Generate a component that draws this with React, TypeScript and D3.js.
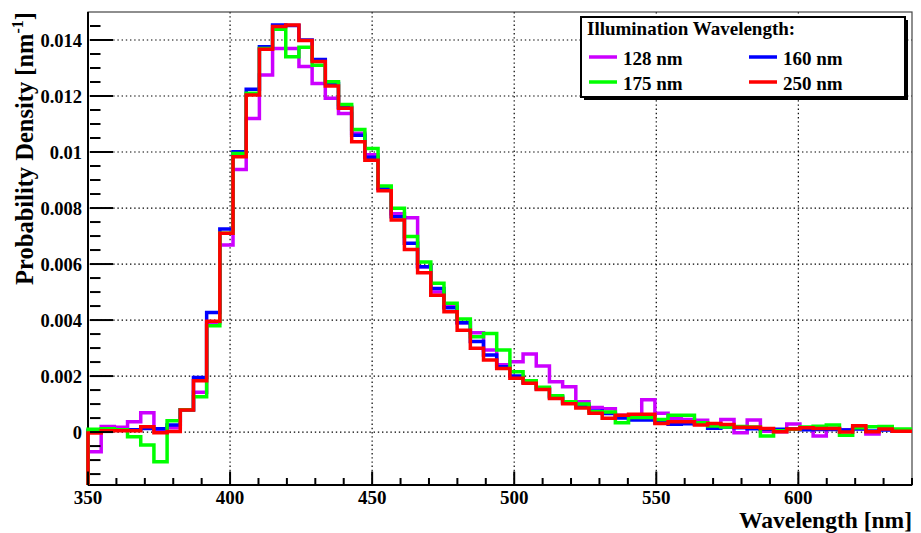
import { useEffect, useRef } from "react";
import * as d3 from "d3";

// histogram binning (nm)
const binStart = 350;
const binWidth = 4.64;

const series128 = [
  -0.0007, 0.0002, 0.00017, 0.00037, 0.00069, 0.00007, 0.00015, 0.00079, 0.00142, 0.0039,
  0.00668, 0.00938, 0.0112, 0.01275, 0.0137, 0.0137, 0.01305, 0.01245, 0.01192, 0.01138,
  0.01067, 0.0099, 0.0087, 0.0078, 0.00765, 0.0059, 0.005, 0.00448, 0.0039, 0.00355,
  0.00293, 0.0024, 0.00251, 0.00279, 0.00236, 0.0018, 0.00162, 0.00108, 0.00088, 0.00083,
  0.0006, 0.0006, 0.00115, 0.00067, 0.00049, 0.00045, 0.00042, 0.0003, 0.00045, -0.00002,
  0.00043, 0.00003, 0.00001, 0.00029, 0.0001, -0.00014, 0.00013, 0.00008, 0.00013, -0.00007,
  0.0001, 0.00006, 0.00005,
];
const series160 = [
  0.00005, 0.00008, 0.00008, 0.00008, 0.00013, 0.00012, 0.00025, 0.0008, 0.00195, 0.00427,
  0.00725, 0.01001, 0.01224, 0.01376, 0.01454, 0.01452, 0.014, 0.0133, 0.01245, 0.0116,
  0.0106, 0.00981, 0.0087, 0.00769, 0.00674, 0.0059, 0.00513, 0.00444, 0.0039, 0.00323,
  0.00275, 0.00233, 0.002, 0.00177, 0.00155, 0.00125, 0.00105, 0.00093, 0.00075, 0.00066,
  0.0005, 0.00043, 0.00043, 0.00033, 0.00028, 0.0003, 0.00028, 0.00014, 0.00018, 0.00015,
  0.00012, 0.0001, 0.0001, 0.00011, 0.00008, 0.00009, 0.00009, 0.00007, 0.00011, 0.00004,
  0.00007, 0.00007, 0.00005,
];
const series175 = [
  0.0001, 0.00012, 0.00008, -0.00017, -0.00046, -0.00106, 0.0004, 0.0008, 0.00126, 0.0038,
  0.0071, 0.00995, 0.0121, 0.0137, 0.01438, 0.0134, 0.01374, 0.0131, 0.01251, 0.0117,
  0.0108, 0.01013, 0.00879, 0.00799, 0.00698, 0.00607, 0.00531, 0.0046, 0.00404, 0.0034,
  0.00352, 0.00293, 0.00215, 0.00183, 0.0016, 0.0013, 0.00108, 0.001, 0.00073, 0.00072,
  0.00033, 0.00052, 0.00052, 0.00045, 0.0006, 0.0006, 0.00033, 0.00022, 0.00018, 0.0002,
  0.00018, -0.00014, 0.00005, 0.0001, 0.00018, 0.00021, 0.00025, -0.00011, 0.00015, 0.00019,
  0.0002, 0.00011, 0.00011,
];
const series250 = [
  -0.00003, 0.00005, 0.00005, 0.00005, 0.00019, -0.00002, 0.00002, 0.00079, 0.00183, 0.00396,
  0.0071, 0.00983, 0.01204, 0.01367, 0.01448, 0.01454, 0.01398, 0.01323, 0.01236, 0.01156,
  0.01037, 0.00971, 0.00862, 0.00757, 0.00652, 0.00569, 0.00489, 0.0043, 0.00364, 0.00299,
  0.00257, 0.00227, 0.00192, 0.00174, 0.00152, 0.0012, 0.00101, 0.00086, 0.00067, 0.00049,
  0.0006, 0.00064, 0.00064, 0.00031, 0.00037, 0.00037, 0.00025, 0.00031, 0.00027, 0.00017,
  0.00017, 0.00013, 0.00001, 0.00011, 0.00015, 0.00013, 0.00013, 0, 0.00023, 0.00001,
  0.00011, 0.00003, 0.00003,
];

const seriesLabels = ["128 nm", "160 nm", "175 nm", "250 nm"];
const seriesColors = ["#cc00ff", "#0000ff", "#00ff00", "#ff0000"];
const drawOrder = [0, 1, 2, 3];

const xTicks = [350, 400, 450, 500, 550, 600];
const yTicks = [0, 0.002, 0.004, 0.006, 0.008, 0.01, 0.012, 0.014];
const yTickLabels = ["0", "0.002", "0.004", "0.006", "0.008", "0.01", "0.012", "0.014"];

const W = 921;
const H = 533;
const left = 88;
const right = 912;
const top = 12;
const bottom = 485;
const font = "'Liberation Serif', 'Times New Roman', serif";

const App = () => {
  const ref = useRef(null);

  useEffect(() => {
    const svg = d3.select(ref.current);
    svg.selectAll("*").remove();

    const x = d3.scaleLinear().domain([350, 640]).range([left, right]);
    const y = d3.scaleLinear().domain([-0.00189, 0.015]).range([bottom, top]);
    const [yMin] = y.domain();
    const xMax = x.domain()[1];

    svg.append("rect").attr("width", W).attr("height", H).attr("fill", "white");

    svg.append("defs").append("clipPath").attr("id", "frame")
      .append("rect").attr("x", left - 2).attr("y", top)
      .attr("width", right - left + 2).attr("height", bottom - top);

    // grid
    const grid = svg.append("g").attr("stroke", "#000").attr("stroke-width", 1.2)
      .attr("stroke-dasharray", "1.4 2.8");
    grid.selectAll(".gx").data(xTicks.slice(1)).join("line")
      .attr("x1", (d) => x(d)).attr("x2", (d) => x(d))
      .attr("y1", top).attr("y2", bottom);
    grid.selectAll(".gy").data(yTicks).join("line")
      .attr("x1", left).attr("x2", right)
      .attr("y1", (d) => y(d)).attr("y2", (d) => y(d));

    // frame
    svg.append("rect").attr("x", left).attr("y", top)
      .attr("width", right - left).attr("height", bottom - top)
      .attr("fill", "none").attr("stroke", "#444").attr("stroke-width", 1.2);

    // axis lines
    const axes = svg.append("g").attr("stroke", "#000").attr("stroke-width", 2);
    axes.append("line").attr("x1", left).attr("x2", left).attr("y1", top).attr("y2", bottom);
    axes.append("line").attr("x1", left).attr("x2", right).attr("y1", bottom).attr("y2", bottom);

    // histograms
    const all = [series128, series160, series175, series250];
    const line = d3.line<[number, number]>()
      .x((d) => x(d[0])).y((d) => y(d[1]))
      .curve(d3.curveStepAfter);
    const hg = svg.append("g").attr("clip-path", "url(#frame)");
    drawOrder.forEach((s) => {
      const vals = all[s];
      const pts: [number, number][] = [[binStart, yMin]];
      vals.forEach((v, i) => pts.push([binStart + i * binWidth, v]));
      pts.push([Math.min(binStart + vals.length * binWidth, xMax + 5), vals[vals.length - 1]]);
      hg.append("path").attr("d", line(pts))
        .attr("fill", "none").attr("stroke", seriesColors[s])
        .attr("stroke-width", 3.5).attr("stroke-linejoin", "miter");
    });

    // y ticks
    const ya = svg.append("g").attr("stroke", "#000").attr("stroke-width", 2);
    const yMinor = d3.range(-0.0015, 0.01451, 0.0005);
    ya.selectAll(".ym").data(yMinor).join("line")
      .attr("x1", left + 2).attr("y1", (d) => y(d)).attr("y2", (d) => y(d))
      .attr("x2", (d) => left + (yTicks.some((t) => Math.abs(t - d) < 1e-7) ? 25 : 12.5));

    svg.append("g").selectAll("text").data(yTicks).join("text")
      .attr("x", 82).attr("y", (d) => y(d) + 6.5)
      .attr("text-anchor", "end").attr("font-family", font).attr("font-weight", "bold")
      .attr("font-size", 18.5).text((d, i) => yTickLabels[i]);

    // x ticks
    const xa = svg.append("g").attr("stroke", "#000").attr("stroke-width", 2);
    const xMinor = d3.range(350, 641, 10);
    xa.selectAll(".xm").data(xMinor).join("line")
      .attr("x1", (d) => x(d)).attr("x2", (d) => x(d)).attr("y1", bottom)
      .attr("y2", (d) => bottom - (d % 50 === 0 ? 13.5 : 7));

    svg.append("g").selectAll("text").data(xTicks).join("text")
      .attr("x", (d) => x(d)).attr("y", 504)
      .attr("text-anchor", "middle").attr("font-family", font).attr("font-weight", "bold")
      .attr("font-size", 19).text((d) => d);

    // axis titles
    svg.append("text").attr("x", right).attr("y", 528)
      .attr("text-anchor", "end").attr("font-family", font).attr("font-weight", "bold")
      .attr("font-size", 23.5).text("Wavelength [nm]");

    const yt = svg.append("text").attr("transform", `translate(33,${top}) rotate(-90)`)
      .attr("text-anchor", "end").attr("font-family", font).attr("font-weight", "bold")
      .attr("font-size", 24.5);
    yt.append("tspan").text("Probability Density [nm");
    yt.append("tspan").attr("dy", -10).attr("font-size", 16).text("-1");
    yt.append("tspan").attr("dy", 10).text("]");

    // legend
    const lg = svg.append("g");
    lg.append("rect").attr("x", 584).attr("y", 20).attr("width", 324).attr("height", 80).attr("fill", "#000");
    lg.append("rect").attr("x", 581).attr("y", 17).attr("width", 324).attr("height", 80)
      .attr("fill", "white").attr("stroke", "#000").attr("stroke-width", 2);
    lg.append("text").attr("x", 587).attr("y", 35).attr("font-family", font)
      .attr("font-weight", "bold").attr("font-size", 19).text("Illumination Wavelength:");
    const slots = [
      [589, 57], [749, 57], [589, 82], [749, 82],
    ];
    seriesLabels.forEach((lab, i) => {
      const [lx, ly] = slots[i];
      lg.append("line").attr("x1", lx).attr("x2", lx + 28).attr("y1", ly).attr("y2", ly)
        .attr("stroke", seriesColors[i]).attr("stroke-width", 3.5);
      lg.append("text").attr("x", lx + 34).attr("y", ly + 7.5).attr("font-family", font)
        .attr("font-weight", "bold").attr("font-size", 19).text(lab);
    });
  }, []);

  return (
    <div style={{ position: "fixed", left: 0, top: 0 }}>
      <svg ref={ref} width={W} height={H} viewBox={`0 0 ${W} ${H}`} />
    </div>
  );
};

export default App;
